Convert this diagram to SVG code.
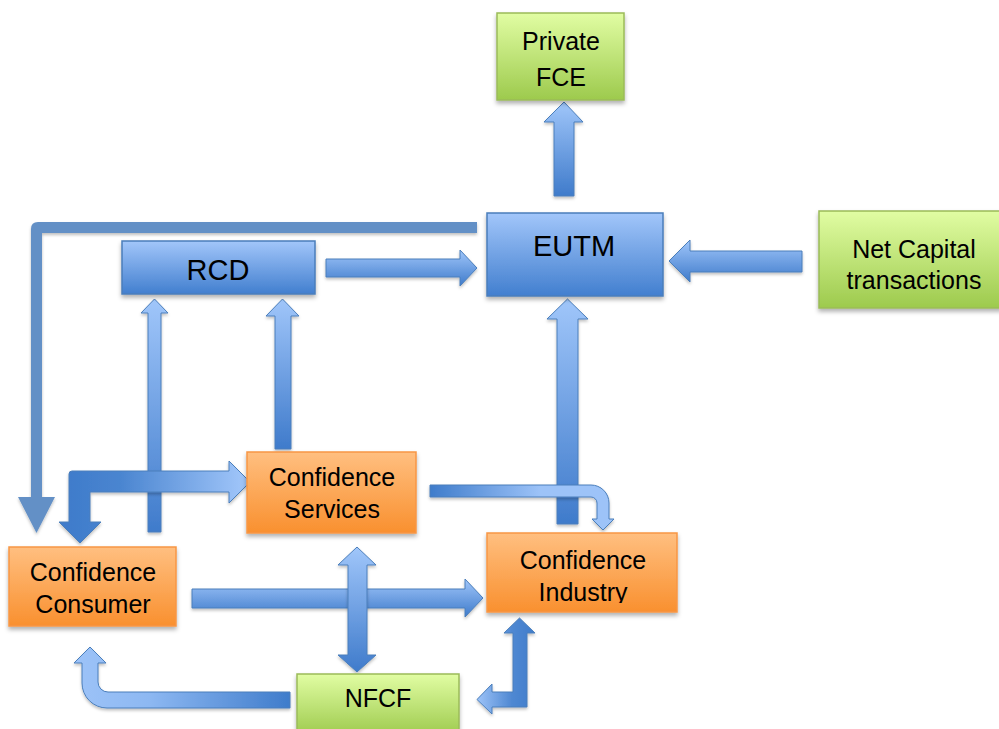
<svg xmlns="http://www.w3.org/2000/svg" width="999" height="729" viewBox="0 0 999 729">
<defs>
<linearGradient id="gBlueBox" x1="0" y1="0" x2="0" y2="1"><stop offset="0" stop-color="#a2c6fa"/><stop offset="1" stop-color="#427fcf"/></linearGradient>
<linearGradient id="gOrange" x1="0" y1="0" x2="0" y2="1"><stop offset="0" stop-color="#ffbf80"/><stop offset="1" stop-color="#f9902f"/></linearGradient>
<linearGradient id="gGreen" x1="0" y1="0" x2="0" y2="1"><stop offset="0" stop-color="#e1fda3"/><stop offset="1" stop-color="#9dca4d"/></linearGradient>
<linearGradient id="aV" x1="0" y1="0" x2="0" y2="1"><stop offset="0" stop-color="#a0c6fa"/><stop offset="1" stop-color="#3f7bcb"/></linearGradient>
<linearGradient id="aLR" x1="0" y1="0" x2="1" y2="0"><stop offset="0" stop-color="#3f7ccb"/><stop offset="0.85" stop-color="#9dc3f8"/><stop offset="1" stop-color="#9dc3f8"/></linearGradient>
<linearGradient id="aRL" x1="0" y1="0" x2="1" y2="0"><stop offset="0" stop-color="#9dc3f8"/><stop offset="1" stop-color="#3f7ccb"/></linearGradient>
<linearGradient id="aElbow" gradientUnits="userSpaceOnUse" x1="69" y1="0" x2="240" y2="0"><stop offset="0" stop-color="#3f7ccb"/><stop offset="0.3" stop-color="#4a85d0"/><stop offset="1" stop-color="#9dc3f8"/></linearGradient>
<linearGradient id="aCurve1" gradientUnits="userSpaceOnUse" x1="430" y1="0" x2="615" y2="0"><stop offset="0" stop-color="#3f7ccb"/><stop offset="0.6" stop-color="#9dc3f8"/><stop offset="1" stop-color="#9dc3f8"/></linearGradient>
<linearGradient id="aCurve2" gradientUnits="userSpaceOnUse" x1="74" y1="0" x2="290" y2="0"><stop offset="0" stop-color="#9dc3f8"/><stop offset="0.35" stop-color="#8db8f2"/><stop offset="1" stop-color="#3f7ccb"/></linearGradient>
<linearGradient id="aCurve3" gradientUnits="userSpaceOnUse" x1="477" y1="0" x2="535" y2="0"><stop offset="0" stop-color="#9dc3f8"/><stop offset="0.6" stop-color="#4f88d2"/><stop offset="1" stop-color="#3f7ccb"/></linearGradient>
<filter id="sh" x="-10%" y="-10%" width="120%" height="130%"><feDropShadow dx="0" dy="3" stdDeviation="2" flood-color="#000" flood-opacity="0.3"/></filter>
<filter id="ash" x="-10%" y="-10%" width="120%" height="130%"><feDropShadow dx="0" dy="2" stdDeviation="1.5" flood-color="#000" flood-opacity="0.25"/></filter>
<clipPath id="clipInd"><rect x="487" y="533" width="190" height="70"/></clipPath>
</defs>
<style>
.bb{fill:url(#gBlueBox);stroke:#4a7ebb;stroke-width:1.5;filter:url(#sh)}
.ob{fill:url(#gOrange);stroke:#f79646;stroke-width:1.5;filter:url(#sh)}
.gb{fill:url(#gGreen);stroke:#9bbb59;stroke-width:1.5;filter:url(#sh)}
.t{font-family:"Liberation Sans",Arial,sans-serif;font-size:25px;fill:#000;text-anchor:middle}
.tb{font-size:29px}
.ar{stroke:#4a7ebb;stroke-width:1;filter:url(#ash)}
</style>
<rect width="999" height="729" fill="#fff"/>
<g id="connectors">
<path class="ar" fill="url(#aV)" d="M564,102 L583,122 L574,122 L574,196 L554,196 L554,122 L544,122 Z"/>
<path fill="#6390c6" filter="url(#ash)" d="M477,222 L38,222 Q31,222 31,229 L31,497 L18,497 L36.5,533 L55,497 L42,497 L42,233 L477,233 Z"/>
<path class="ar" fill="url(#aV)" d="M326,259 L460,259 L460,250 L477,268 L460,286 L460,277 L326,277 Z"/>
<path class="ar" fill="url(#aV)" d="M669,261 L690,240 L690,251 L802,251 L802,272 L690,272 L690,282 Z"/>
<path class="ar" fill="url(#aV)" d="M567.5,299 L588,319 L578,319 L578,524 L557,524 L557,319 L547,319 Z"/>
<path class="ar" fill="url(#aV)" d="M154.5,299 L168,313 L161,313 L161,532 L148,532 L148,313 L141,313 Z"/>
<path class="ar" fill="url(#aV)" d="M282.5,299 L299,316 L291,316 L291,449 L275,449 L275,316 L266,316 Z"/>
<path class="ar" fill="url(#aElbow)" d="M72,471 L229,471 L229,461 L250,482 L229,503 L229,492 L90,492 L90,522 L101,522 L80,543 L59,522 L69,522 L69,474 Q69,471 72,471 Z"/>
<path class="ar" fill="url(#aCurve1)" d="M430,485 L591,485 A18,18 0 0 1 609,503 L609,519 L614,519 L603,530 L592,519 L597,519 L597,503 A6,6 0 0 0 591,497 L430,497 Z"/>
<path class="ar" fill="url(#aV)" d="M192,589 L465,589 L465,579 L483,598 L465,617 L465,608 L192,608 Z"/>
<path class="ar" fill="url(#aV)" d="M357,547 L376,565 L367,565 L367,655 L376,655 L357,672 L338,655 L348,655 L348,565 L338,565 Z"/>
<path class="ar" fill="url(#aCurve2)" d="M290,692 L108,692 A10,10 0 0 1 98,682 L98,663 L106,663 L90,647 L74,663 L82,663 L82,683 A25,25 0 0 0 107,708 L290,708 Z"/>
<path class="ar" fill="url(#aCurve3)" d="M477,699.5 L492,684 L492,692 L513,692 L513,633 L504,633 L519.5,618 L535,633 L527,633 L527,707 L492,707 L492,714 Z"/>
</g>
<g id="privateFCE"><rect class="gb" x="497" y="13" width="127" height="87"/><text class="t" x="561" y="50">Private</text><text class="t" x="561" y="86">FCE</text></g>
<g id="EUTM"><rect class="bb" x="487" y="213" width="176" height="83"/><text class="t tb" x="574" y="256">EUTM</text></g>
<g id="RCD"><rect class="bb" x="122" y="241" width="193" height="53"/><text class="t tb" x="218" y="280">RCD</text></g>
<g id="netCapital"><rect class="gb" x="819" y="211" width="183" height="97"/><text class="t" x="914" y="258">Net Capital</text><text class="t" x="914" y="289">transactions</text></g>
<g id="confServices"><rect class="ob" x="247" y="452" width="169" height="81"/><text class="t" x="332" y="486">Confidence</text><text class="t" x="332" y="518">Services</text></g>
<g id="confConsumer"><rect class="ob" x="9" y="547" width="167" height="79"/><text class="t" x="93" y="581">Confidence</text><text class="t" x="93" y="613">Consumer</text></g>
<g id="confIndustry"><rect class="ob" x="487" y="533" width="190" height="79"/><g clip-path="url(#clipInd)"><text class="t" x="583" y="569">Confidence</text><text class="t" x="583" y="601">Industry</text></g></g>
<g id="NFCF"><rect class="gb" x="297" y="674" width="162" height="62"/><text class="t" x="378" y="707">NFCF</text></g>
</svg>
